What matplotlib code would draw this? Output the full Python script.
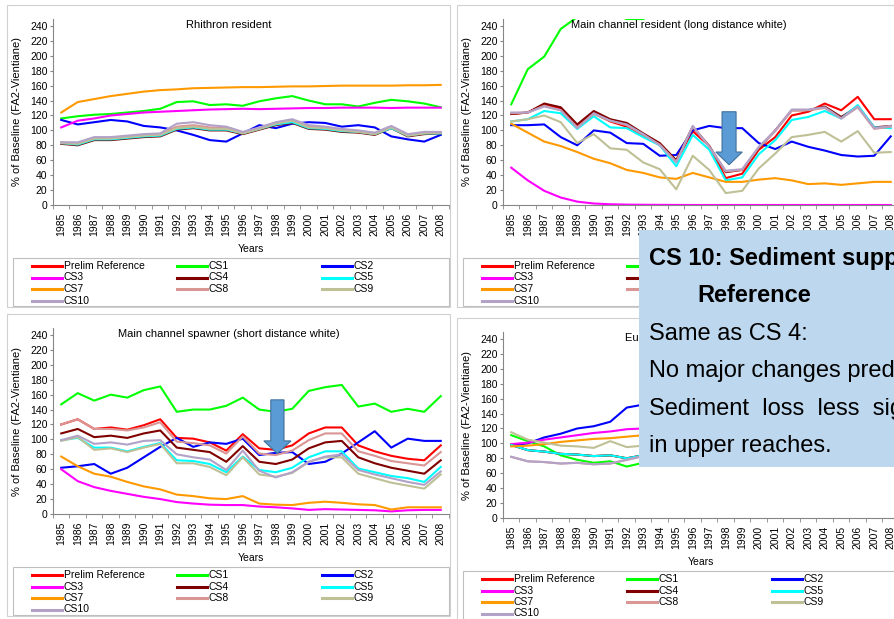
import numpy as np
import matplotlib
matplotlib.use('Agg')
import matplotlib.pyplot as plt
from matplotlib.patches import Rectangle, FancyArrow
from matplotlib.lines import Line2D

plt.rcParams['font.family'] = ['Liberation Sans', 'DejaVu Sans']

years = [str(y) for y in range(1985, 2009)]
names = ['Prelim Reference', 'CS1', 'CS2', 'CS3', 'CS4', 'CS5', 'CS7', 'CS8', 'CS9', 'CS10']
colors = ['#FF0000', '#00FF00', '#0000FF', '#FF00FF', '#800000',
          '#00FFFF', '#FF9900', '#D99694', '#BFC096', '#B3A2C7']

# Rhithron resident
rr_prelim = [83, 81, 88, 88, 90, 92, 93, 102, 104, 101, 101, 96, 102, 108, 112, 103, 102, 99, 98, 95, 104, 93, 96, 97]
rr_cs1 = [116, 119, 121, 122, 124, 126, 129, 138, 139, 134, 135, 133, 139, 143, 146, 140, 135, 135, 132, 137, 141, 139, 136, 131]
rr_cs2 = [114, 108, 111, 114, 112, 106, 104, 100, 94, 87, 85, 96, 107, 103, 109, 111, 110, 105, 107, 104, 92, 88, 85, 94]
rr_cs3 = [104, 113, 116, 120, 122, 124, 125, 126, 127, 128, 128.5, 129, 128.5, 129, 129.5, 130, 130, 130.5, 130.5, 130.5, 130, 130.5, 130.5, 130.5]
rr_cs4 = [82, 80, 87, 87, 89, 91, 92, 101, 103, 100, 100, 95, 101, 107, 110, 102, 101, 98, 97, 94, 103, 92, 95, 96]
rr_cs5 = [83, 81, 88, 88, 90, 92, 93, 102, 104, 101, 101, 96, 102, 108, 111, 103, 102, 99, 98, 95, 103, 93, 96, 96]
rr_cs7 = [124, 138, 142, 146, 149, 152, 154, 155, 156.5, 157, 157.5, 158, 158, 158.5, 159, 159, 159.5, 160, 160, 160, 160, 160.5, 160.5, 161]
rr_cs8 = [84, 83, 90, 90, 92, 94, 95, 105, 107, 104, 103, 97, 103, 110, 114, 105, 104, 101, 99, 96, 105, 94, 97, 97]
rr_cs9 = [83, 82, 89, 89, 91, 93, 94, 103, 105, 102, 102, 96, 102, 109, 113, 104, 103, 100, 98, 95, 104, 93, 96, 97]
rr_cs10 = [84, 84, 91, 91, 93, 95, 96, 109, 111, 107, 105, 98, 104, 111, 115, 107, 105, 102, 100, 97, 106, 95, 98, 98]

# Main channel resident (long distance white)
mr_prelim = [122, 124, 134, 129, 105, 123, 112, 105, 93, 82, 59, 99, 79, 36, 42, 74, 91, 120, 125, 136, 127, 145, 115, 115]
mr_cs1 = [135, 182, 199, 236, 252, 262, 258, 249.3, 249.3, 262, 258, 265, 270, 266, 262, 268, 272, 275, 270, 268, 266, 270, 265, 262]
mr_cs2 = [107, 107, 108, 91, 80, 100, 97, 83, 82, 66, 67, 100, 106, 103, 103, 83, 75, 85, 78, 73, 67, 65, 66, 92]
mr_cs3 = [50, 33, 19, 10, 4.5, 2, 1, 0.5, 0.3, 0.2, 0.1, 0, 0, 0, 0, 0, 0, 0, 0, 0, 0, 0, 0, 0]
mr_cs4 = [122, 124, 136, 131, 108, 126, 115, 110, 96, 83, 60, 105, 79, 44, 47, 76, 100, 127, 127, 132, 118, 132, 104, 106]
mr_cs5 = [112, 115, 126, 123, 102, 119, 104, 103, 91, 80, 52, 94, 74, 33, 37, 68, 87, 114, 118, 126, 116, 134, 104, 103]
mr_cs7 = [109, 97, 85, 79, 71, 62, 56, 47, 43, 37, 35, 43, 37, 31, 31, 34, 36, 33, 28, 29, 27, 29, 31, 31]
mr_cs8 = [123, 124, 133, 127, 104, 122, 113, 107, 94, 81, 58, 105, 78, 45, 47, 77, 99, 127, 127, 130, 116, 131, 102, 105]
mr_cs9 = [112, 115, 120, 111, 83, 95, 76, 74, 57, 48, 21, 66, 47, 16, 19, 49, 69, 91, 94, 98, 85, 99, 70, 71]
mr_cs10 = [124, 124, 132, 127, 103, 123, 113, 108, 95, 80, 57, 106, 78, 46, 48, 78, 100, 128, 128, 131, 116, 132, 103, 106]

# Main channel spawner (short distance white)
ms_prelim = [120, 127, 114, 116, 113, 119, 127, 102, 101, 96, 85, 107, 88, 86, 92, 108, 116, 116, 92, 84, 78, 74, 72, 92]
ms_cs1 = [147, 162, 152, 160, 156, 166, 171, 137, 140, 140, 145, 156, 140, 137, 141, 165, 170, 173, 144, 148, 137, 141, 137, 158]
ms_cs2 = [62, 64, 67, 54, 62, 76, 90, 102, 90, 96, 94, 101, 79, 82, 83, 67, 70, 81, 96, 111, 89, 101, 98, 98]
ms_cs3 = [60, 44, 36, 31, 27, 23, 20, 16, 14, 12.5, 12, 12, 10, 9, 7.5, 5.5, 6.5, 6, 5.5, 5, 3.5, 5, 5.5, 5.5]
ms_cs4 = [108, 114, 103, 105, 102, 108, 112, 89, 86, 83, 70, 91, 70, 67, 73, 88, 96, 98, 76, 68, 62, 58, 54, 72]
ms_cs5 = [99, 102, 89, 89, 84, 90, 95, 72, 71, 67, 56, 77, 59, 56, 62, 76, 84, 84, 61, 56, 51, 48, 43, 63]
ms_cs7 = [77, 64, 54, 50, 43, 37, 33, 26, 24, 21, 20, 24, 14, 12.5, 12, 15, 16.5, 15, 13, 12, 6, 9, 9, 9]
ms_cs8 = [120, 127, 114, 114, 112, 116, 123, 97, 95, 92, 81, 104, 81, 79, 85, 99, 108, 108, 84, 78, 71, 68, 65, 83]
ms_cs9 = [98, 103, 86, 88, 83, 89, 94, 68, 68, 63, 52, 76, 53, 50, 55, 70, 76, 76, 54, 48, 42, 38, 34, 53]
ms_cs10 = [99, 105, 94, 96, 93, 98, 99, 80, 76, 73, 59, 85, 58, 49, 56, 70, 77, 80, 59, 53, 48, 43, 39, 57]

# Eurytopic (generalist), 1985-1993
eu_prelim = [98, 91, 89, 86, 85, 83, 84, 80, 84]
eu_cs1 = [111, 103, 96, 84, 78, 74, 76, 69, 74]
eu_cs2 = [97, 100, 108, 113, 120, 123, 129, 148, 152]
eu_cs3 = [99, 101, 105, 108, 111, 114, 116, 119, 120]
eu_cs4 = [98, 91, 89, 86, 85, 83, 84, 80, 84]
eu_cs5 = [98, 91, 89, 86, 85, 83, 84, 80, 84]
eu_cs7 = [96, 97, 99, 102, 104, 106, 107, 109, 111]
eu_cs8 = [82, 76, 75, 73, 74, 72, 73, 78, 83]
eu_cs9 = [115, 105, 101, 97, 96, 94, 103, 95, 97]
eu_cs10 = [82, 76, 75, 73, 74, 72, 73, 78, 83]

W, H = 895, 619
fig = plt.figure(figsize=(W / 100, H / 100), dpi=100)


def fx(x):
    return x / W


def fy(y):
    return 1 - y / H


def panel(dx, dy, title, series):
    # chart area outline
    fig.add_artist(Rectangle((fx(7 + dx), fy(307 + dy)), 443 / W, 302 / H,
                             transform=fig.transFigure, fill=False,
                             edgecolor='#D0D0D0', lw=0.8, zorder=1))
    ax = fig.add_axes([fx(53 + dx), fy(205 + dy), 396 / W, 186.5 / H])
    for vals, col in zip(series, colors):
        ax.plot(range(len(vals)), vals, color=col, lw=1.5)
    ax.set_xlim(-0.5, 23.5)
    ax.set_ylim(0, 250)
    ax.set_yticks(range(0, 241, 20))
    ax.set_xticks(range(24), years, rotation=90)
    ax.set_xticks(np.arange(-0.5, 24), minor=True)
    ax.tick_params(axis='x', which='major', length=0, pad=5.5, labelsize=7.5)
    ax.tick_params(axis='x', which='minor', length=3, color='#868686')
    ax.tick_params(axis='y', length=2.5, pad=1.5, labelsize=7.5, color='#868686')
    for s in ['top', 'right']:
        ax.spines[s].set_visible(False)
    for s in ['left', 'bottom']:
        ax.spines[s].set_color('#868686')
        ax.spines[s].set_linewidth(0.8)

    fig.text(fx(228.5 + dx), fy(25 + dy), title, ha='center', va='center', fontsize=8)
    fig.text(fx(17 + dx), fy(112 + dy), '% of Baseline (FA2-Vientiane)', rotation=90,
             ha='center', va='center', fontsize=8)
    fig.text(fx(251 + dx), fy(249 + dy), 'Years', ha='center', va='center', fontsize=7.5)

    # legend below the plot
    fig.add_artist(Rectangle((fx(13 + dx), fy(306 + dy)), 436 / W, 48 / H,
                             transform=fig.transFigure, facecolor='white',
                             edgecolor='#BFBFBF', lw=0.8, zorder=1))
    col_x = [32, 177, 322]
    row_y = [266, 277.5, 289, 300.5]
    for i, (name, col) in enumerate(zip(names, colors)):
        x0 = col_x[i % 3] + dx
        y0 = row_y[i // 3] + dy
        fig.add_artist(Line2D([fx(x0), fx(x0 + 30)], [fy(y0), fy(y0)], color=col,
                              lw=2.2, transform=fig.transFigure, zorder=2))
        fig.text(fx(x0 + 32), fy(y0), name, ha='left', va='center', fontsize=7.5, zorder=3)
    return ax


ax1 = panel(0, 0, 'Rhithron resident',
            [rr_prelim, rr_cs1, rr_cs2, rr_cs3, rr_cs4, rr_cs5, rr_cs7, rr_cs8, rr_cs9, rr_cs10])
ax2 = panel(450, 0, 'Main channel resident (long distance white)',
            [mr_prelim, mr_cs1, mr_cs2, mr_cs3, mr_cs4, mr_cs5, mr_cs7, mr_cs8, mr_cs9, mr_cs10])
ax3 = panel(0, 309, 'Main channel spawner (short distance white)',
            [ms_prelim, ms_cs1, ms_cs2, ms_cs3, ms_cs4, ms_cs5, ms_cs7, ms_cs8, ms_cs9, ms_cs10])
ax4 = panel(450, 313, 'Eurytopic (generalist)',
            [eu_prelim, eu_cs1, eu_cs2, eu_cs3, eu_cs4, eu_cs5, eu_cs7, eu_cs8, eu_cs9, eu_cs10])

# block arrows pointing at 1998
ax2.add_patch(FancyArrow(13.2, 125, 0, -71, width=0.85, head_width=1.6, head_length=17,
                         length_includes_head=True, facecolor='#5B9BD5',
                         edgecolor='#41719C', lw=0.8, zorder=5))
ax3.add_patch(FancyArrow(13.1, 153, 0, -72, width=0.8, head_width=1.65, head_length=17,
                         length_includes_head=True, facecolor='#5B9BD5',
                         edgecolor='#41719C', lw=0.8, zorder=5))

# note box
fig.add_artist(Rectangle((fx(639), fy(467)), (W - 639 + 5) / W, 237 / H,
                         transform=fig.transFigure, facecolor='#BDD7EE',
                         edgecolor='none', zorder=5))
fig.text(fx(649), fy(265), 'CS 10: Sediment supply', fontsize=17, fontweight='bold',
         va='baseline', zorder=6)
fig.text(fx(697), fy(302), 'Reference', fontsize=17, fontweight='bold',
         va='baseline', zorder=6)
note_lines = ['Same as CS 4:',
              'No major changes predicted.',
              'Sediment  loss  less  significant',
              'in upper reaches.']
for k, line in enumerate(note_lines):
    fig.text(fx(649), fy(340 + 37.3 * k), line, fontsize=17, va='baseline', zorder=6)

fig.savefig('out.png', dpi=100)
